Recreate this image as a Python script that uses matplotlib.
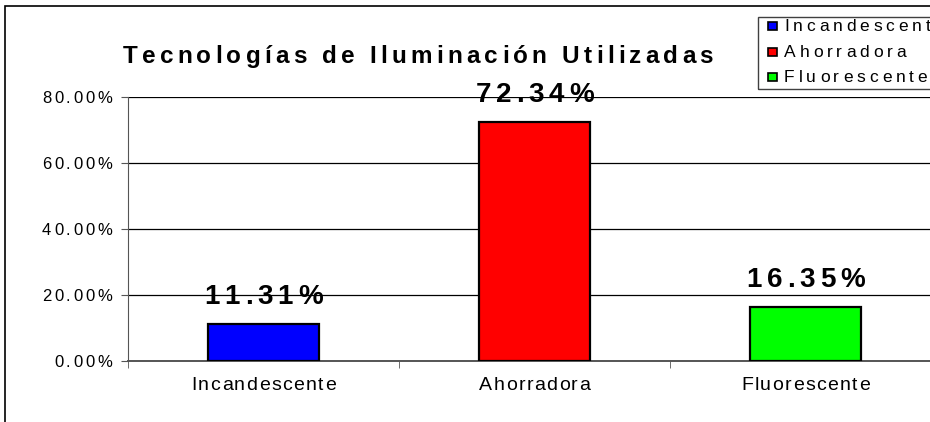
import matplotlib.pyplot as plt
from matplotlib.patches import Rectangle
from matplotlib.font_manager import FontProperties, findfont, get_font
from matplotlib.ft2font import LoadFlags
from matplotlib.transforms import offset_copy

plt.rcParams["font.family"] = ["Liberation Sans", "DejaVu Sans"]

# Porcentaje de cada tecnología de iluminación
tecnologias = ["Incandescente", "Ahorradora", "Fluorescente"]
porcentajes = [11.31, 72.34, 16.35]
colores = ["#0000ff", "#ff0000", "#00ff00"]
yticks = [0, 20, 40, 60, 80]
titulo = "Tecnologías de Iluminación Utilizadas"

W, H, DPI = 930, 422, 100
fig = plt.figure(figsize=(W / DPI, H / DPI), dpi=DPI)


def px(v):
    return v * 72 / DPI


def texto_espaciado(s, x, y, transform, size, track, ha="left", dx=0, dy=0, weight="normal"):
    """Texto con espaciado extra entre letras (track en px), alineado en la línea base."""
    prop = FontProperties(family="Liberation Sans", size=size, weight=weight)
    f = get_font(findfont(prop))
    f.set_size(size, 72)
    adv = [f.load_char(ord(c), flags=LoadFlags.NO_HINTING).linearHoriAdvance / 65536 for c in s]
    t = px(track)
    total = sum(adv) + t * (len(s) - 1)
    pos = {"left": 0, "center": -total / 2, "right": -total}[ha] + px(dx)
    for c, a in zip(s, adv):
        if c != " ":
            tr = offset_copy(transform, fig=fig, x=pos, y=px(dy), units="points")
            fig.text(x, y, c, transform=tr, fontproperties=prop, ha="left", va="baseline")
        pos += a + t


# marco exterior del gráfico
fig.patches.append(Rectangle((5 / W, -0.5), 2, 1.5 - 6 / H, transform=fig.transFigure,
                             fill=False, edgecolor="black", linewidth=1.2))

ax = fig.add_axes([128 / W, (H - 361) / H, (941 - 128) / W, 264 / H])
x = list(range(len(tecnologias)))
barras = ax.bar(x, porcentajes, width=0.41, color=colores, edgecolor="black",
                linewidth=1.6, zorder=3)
ax.set_xlim(-0.5, 2.5)
ax.set_ylim(0, 80)
ax.set_yticks(yticks)
ax.set_yticklabels([])
ax.grid(axis="y", color="black", linewidth=0.9, zorder=0)
ax.set_xticks(x)
ax.set_xticklabels([])
ax.set_xticks([-0.5, 0.5, 1.5], minor=True)
ax.tick_params(axis="x", which="major", length=0)
ax.tick_params(axis="x", which="minor", length=5, color="#555555")
ax.tick_params(axis="y", length=5, color="#555555")
for s in ["top", "right"]:
    ax.spines[s].set_visible(False)
ax.spines["left"].set_color("#555555")
ax.spines["bottom"].set_color("#555555")
ax.spines["bottom"].set_linewidth(1.4)

# etiquetas de valores sobre cada barra
for xi, v in zip(x, porcentajes):
    texto_espaciado(f"{v:.2f}%", xi, v, ax.transData, 20, 4.8, ha="center", dy=20,
                    weight="bold")

# etiquetas del eje y
for v in yticks:
    texto_espaciado(f"{v:.2f}%", 0, v, ax.get_yaxis_transform(), 12, 2.7, ha="right",
                    dx=-16, dy=-6)

# etiquetas de categoría
for xi, nombre in zip(x, tecnologias):
    texto_espaciado(nombre, xi, 0, ax.get_xaxis_transform(), 14, 1.5, ha="center", dy=-29)

# título
texto_espaciado(titulo, 418 / W, 1 - 63 / H, fig.transFigure, 17.5, 4.2, ha="center",
                weight="bold")

# leyenda
fig.patches.append(Rectangle((758 / W, 1 - 89 / H), 1, 72 / H, transform=fig.transFigure,
                             fill=False, edgecolor="#404040", linewidth=1.0))
filas = [26, 52, 77]
for fila, nombre, col in zip(filas, tecnologias, colores):
    fig.patches.append(Rectangle((768 / W, 1 - (fila + 4) / H), 9 / W, 8 / H,
                                 transform=fig.transFigure, facecolor=col,
                                 edgecolor="black", linewidth=1.2))
    texto_espaciado(nombre, 784 / W, 1 - (fila + 5) / H, fig.transFigure, 12.5, 3.9)

fig.savefig("out.png", dpi=DPI)
